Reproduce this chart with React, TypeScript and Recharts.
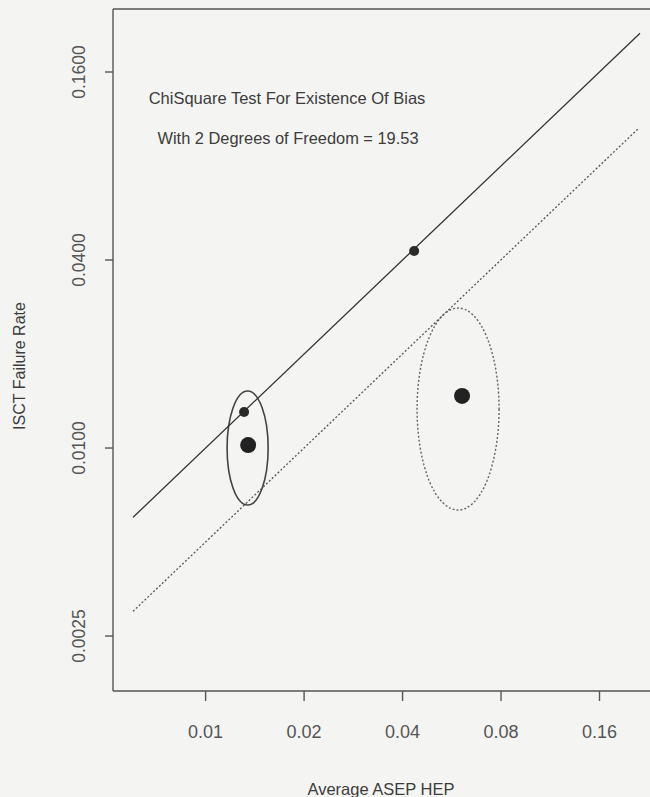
import { ScatterChart, Scatter, XAxis, YAxis, ReferenceLine, ReferenceArea, Customized } from 'recharts';

// axis ranges (log scales) and tick values
const xDomain = [0.00521, 0.2283];
const yDomain = [0.001667, 0.2546];
const xTicks = [0.01, 0.02, 0.04, 0.08, 0.16];
const yTicks = [0.0025, 0.01, 0.04, 0.16];

// fitted lines
const solidLine = [
  { x: 0.006, y: 0.006 },
  { x: 0.2128, y: 0.2128 },
];
const dottedLine = [
  { x: 0.006, y: 0.003 },
  { x: 0.2113, y: 0.1059 },
];

// observed points
const smallPoints = [
  { x: 0.01311, y: 0.01304 },
  { x: 0.0434, y: 0.04275 },
];
const largePoints = [
  { x: 0.01349, y: 0.01022 },
  { x: 0.0608, y: 0.01468 },
];

// confidence ellipse bounds [x1, x2, y1, y2]
const leftEllipse = [0.01163, 0.01553, 0.006569, 0.01522];
const rightEllipse = [0.0443, 0.0789, 0.00633, 0.02807];

const FONT = '"Liberation Sans", Arial, Helvetica, sans-serif';
const INK = '#3c3c3c';

function YTick(props: any) {
  const { y, payload } = props;
  return (
    <text
      x={85}
      y={y}
      transform={`rotate(-90 85 ${y})`}
      textAnchor="middle"
      fontSize={17.5}
      fontFamily={FONT}
      fill="#555"
    >
      {Number(payload.value).toFixed(4)}
    </text>
  );
}

function Ellipse(props: any, dashed: boolean) {
  const { x, y, width, height } = props;
  return (
    <ellipse
      cx={x + width / 2}
      cy={y + height / 2}
      rx={Math.abs(width) / 2}
      ry={Math.abs(height) / 2}
      fill="none"
      stroke={dashed ? '#666' : '#444'}
      strokeWidth={dashed ? 1.4 : 1.6}
      strokeDasharray={dashed ? '2 2' : undefined}
    />
  );
}

function Texts() {
  return (
    <g fontFamily={FONT} fill={INK}>
      <text x={287} y={104} textAnchor="middle" fontSize={16.5}>
        ChiSquare Test For Existence Of Bias
      </text>
      <text x={288} y={144} textAnchor="middle" fontSize={16.4}>
        With 2 Degrees of Freedom = 19.53
      </text>
      <text x={381} y={795} textAnchor="middle" fontSize={16.5}>
        Average ASEP HEP
      </text>
      <text
        x={25}
        y={366}
        transform="rotate(-90 25 366)"
        textAnchor="middle"
        fontSize={16}
      >
        ISCT Failure Rate
      </text>
    </g>
  );
}

export default function App() {
  return (
    <div style={{ width: 650, height: 797, background: '#f4f4f2', overflow: 'hidden' }}>
      <style>{'body { margin: 0; background: #f4f4f2; }'}</style>
      <ScatterChart width={650} height={797} margin={{ top: 9, right: 0, bottom: 0, left: 0 }}>
        <XAxis
          dataKey="x"
          type="number"
          scale="log"
          domain={xDomain}
          allowDataOverflow
          ticks={xTicks}
          tickFormatter={(v) => String(v)}
          height={106}
          tickSize={10}
          tickMargin={24}
          stroke="#555"
          strokeWidth={1.4}
          tick={{ fontSize: 18, fill: '#555', fontFamily: FONT }}
        />
        <YAxis
          dataKey="y"
          type="number"
          scale="log"
          domain={yDomain}
          allowDataOverflow
          ticks={yTicks}
          width={113}
          tickSize={8}
          stroke="#555"
          strokeWidth={1.4}
          tick={<YTick />}
        />
        <ReferenceLine y={yDomain[1]} stroke="#555" strokeWidth={1.6} />
        <ReferenceArea
          x1={leftEllipse[0]}
          x2={leftEllipse[1]}
          y1={leftEllipse[2]}
          y2={leftEllipse[3]}
          shape={(p: any) => Ellipse(p, false)}
        />
        <ReferenceArea
          x1={rightEllipse[0]}
          x2={rightEllipse[1]}
          y1={rightEllipse[2]}
          y2={rightEllipse[3]}
          shape={(p: any) => Ellipse(p, true)}
        />
        <Scatter
          data={solidLine}
          line={{ stroke: '#333', strokeWidth: 1.3 }}
          shape={() => <g />}
          isAnimationActive={false}
        />
        <Scatter
          data={dottedLine}
          line={{ stroke: '#555', strokeWidth: 1.3, strokeDasharray: '2 2' }}
          shape={() => <g />}
          isAnimationActive={false}
        />
        <Scatter
          data={smallPoints}
          shape={(p: any) => <circle cx={p.cx} cy={p.cy} r={5} fill="#2a2a2a" />}
          isAnimationActive={false}
        />
        <Scatter
          data={largePoints}
          shape={(p: any) => <circle cx={p.cx} cy={p.cy} r={8} fill="#222" />}
          isAnimationActive={false}
        />
        <Customized component={Texts} />
      </ScatterChart>
    </div>
  );
}
